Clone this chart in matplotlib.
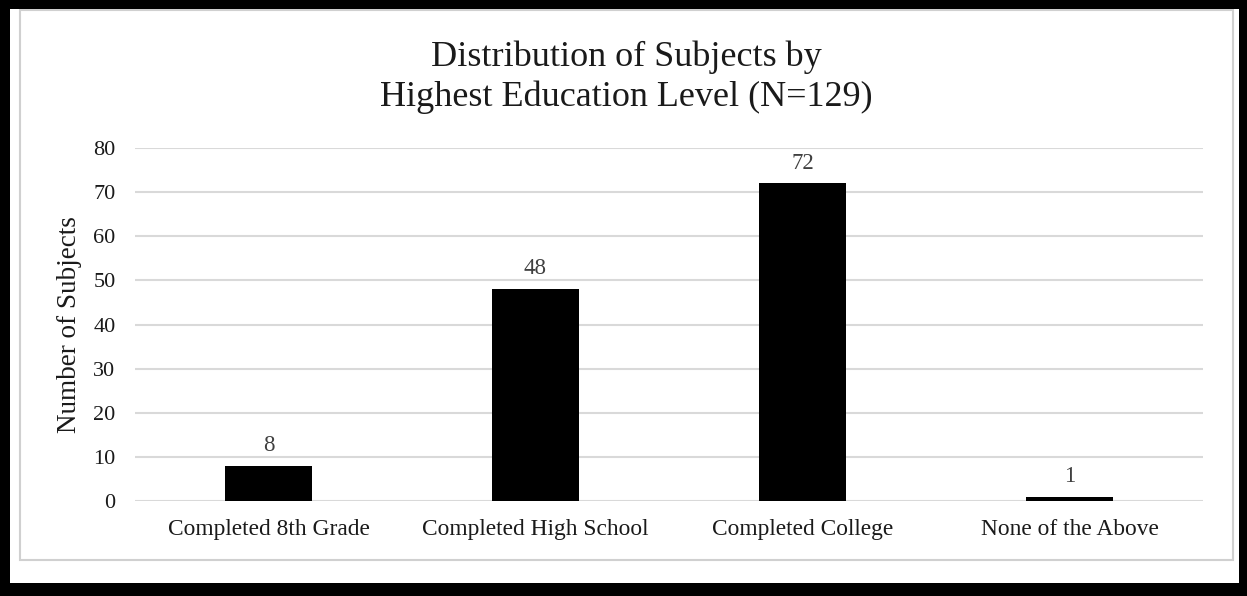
import matplotlib
matplotlib.use("Agg")
import matplotlib.pyplot as plt
from matplotlib.patches import Rectangle

# education level counts
levels = ["Completed 8th Grade", "Completed High School", "Completed College", "None of the Above"]
counts = [8, 48, 72, 1]
yticks = [0, 10, 20, 30, 40, 50, 60, 70, 80]

plt.rcParams['font.family'] = ['Liberation Serif', 'DejaVu Serif']

W, H = 1247, 596
fig = plt.figure(figsize=(W / 100, H / 100), dpi=100)

# light frame inside the heavy black border
fig.patches.append(Rectangle((20 / W, 1 - 560 / H), 1213 / W, 550 / H, transform=fig.transFigure,
                             fill=False, edgecolor='#d0d0d0', linewidth=1.5, zorder=0))
for (x0, y0, w, h) in [(0, 0, W, 9), (0, 0, 10, H), (1239, 0, 8, H), (0, 583, W, 13)]:
    fig.patches.append(Rectangle((x0 / W, 1 - (y0 + h) / H), w / W, h / H, transform=fig.transFigure,
                                 facecolor='black', edgecolor='none', zorder=5))

ax = fig.add_axes([135 / W, 1 - 501 / H, 1068 / W, 353 / H])
x = range(len(levels))
ax.bar(x, counts, width=0.326, color='black', zorder=3)
for xi, v in zip(x, counts):
    ax.text(xi, v + 2.2, str(v), ha='center', va='bottom', fontsize=16.5, color='#404040')

ax.set_xlim(-0.5, 3.5)
ax.set_ylim(0, 80)
ax.set_yticks(yticks)
ax.set_xticks(list(x))
ax.set_xticklabels(levels, fontsize=16.8, color='#1a1a1a')
ax.tick_params(axis='y', labelsize=16, labelcolor='#1a1a1a', length=0, pad=14)
ax.tick_params(axis='x', length=0, pad=13)
ax.yaxis.grid(True, color='#d9d9d9', linewidth=1.5, zorder=0)
for s in ax.spines.values():
    s.set_visible(False)

fig.text(69 / W, 1 - 325 / H, "Number of Subjects", rotation=90, ha='center', va='center',
         fontsize=19.5, color='#1a1a1a')

fig.text(626 / W, 1 - 77 / H, "Distribution of Subjects by\nHighest Education Level (N=129)",
         ha='center', va='center', fontsize=26, linespacing=1.27, color='#1a1a1a')

fig.savefig("out.png", dpi=100)
